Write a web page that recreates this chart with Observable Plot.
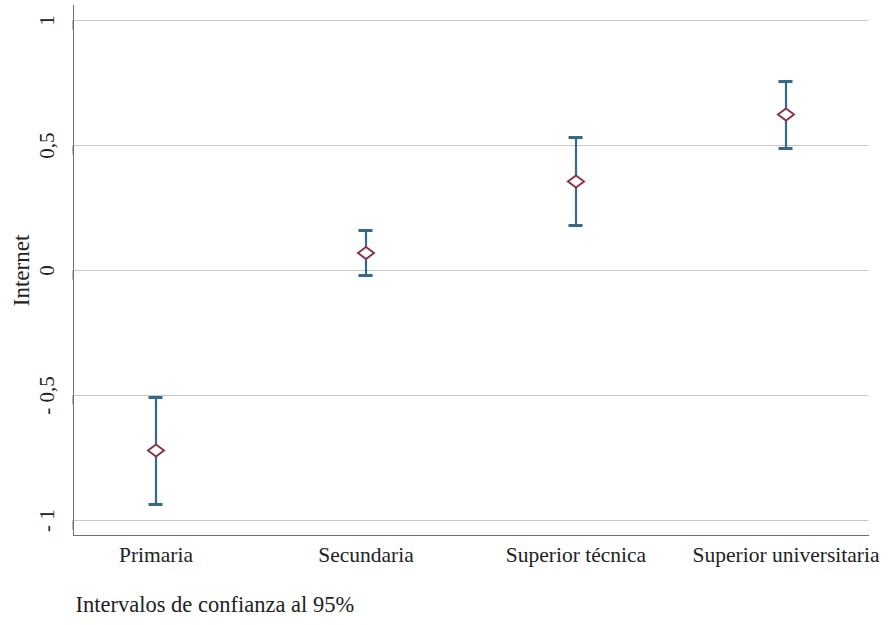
<!DOCTYPE html>
<html>
<head>
<meta charset="utf-8">
<script src="https://cdn.jsdelivr.net/npm/d3@7"></script>
<script src="https://cdn.jsdelivr.net/npm/@observablehq/plot@0.6"></script>
<style>
  html, body { margin: 0; padding: 0; background: #ffffff; }
  #chart { width: 893px; height: 625px; }
  #chart svg, #chart svg text { font-family: "Liberation Serif", "DejaVu Serif", serif !important; }
</style>
</head>
<body>
<div id="chart"></div>
<script>
// Education levels and their estimated effect with 95% confidence bounds
const categories = ["Primaria", "Secundaria", "Superior técnica", "Superior universitaria"];
const estimates = [-0.72, 0.07, 0.356, 0.624];
const lower = [-0.936, -0.02, 0.18, 0.488];
const upper = [-0.508, 0.16, 0.532, 0.756];

// Y axis ticks and their printed labels
const yTicks = [-1, -0.5, 0, 0.5, 1];
const yTickLabels = ["- 1", "- 0,5", "0", "0,5", "1"];

const yLabel = "Internet";
const caption = "Intervalos de confianza al 95%";

const rows = categories.map((c, i) => ({
  level: c, est: estimates[i], lo: lower[i], hi: upper[i]
}));

// Wide diamond marker (wider than tall)
const wideDiamond = {
  draw(context, size) {
    const r = Math.sqrt(size / Math.PI);
    const w = r, h = r * 0.75;
    context.moveTo(0, -h);
    context.lineTo(w, 0);
    context.lineTo(0, h);
    context.lineTo(-w, 0);
    context.closePath();
  }
};

const barColor = "#35698c";
const markerColor = "#8a3548";
const axisColor = "#6e6e6e";

const chart = Plot.plot({
  width: 893,
  height: 625,
  marginLeft: 73,
  marginRight: 25,
  marginTop: 5,
  marginBottom: 90,
  style: "background: #ffffff; color: #222; font-family: 'Liberation Serif', serif;",
  x: {
    type: "band",
    domain: categories,
    paddingInner: 0.9,
    paddingOuter: 0.339
  },
  y: { domain: [-1.06, 1.06] },
  marks: [
    Plot.gridY(yTicks, { stroke: "#c6c6c6", strokeOpacity: 1, strokeWidth: 1 }),
    Plot.frame({ anchor: "left", stroke: axisColor, strokeWidth: 1 }),
    Plot.frame({ anchor: "bottom", stroke: axisColor, strokeWidth: 1 }),
    Plot.axisY(yTicks, {
      tickSize: 9,
      tickPadding: 17,
      rotate: -90,
      textAnchor: "middle",
      tickFormat: (d) => yTickLabels[yTicks.indexOf(d)],
      fontSize: 21,
      stroke: axisColor,
      label: null
    }),
    Plot.axisX({
      tickSize: 0,
      tickPadding: 11,
      fontSize: 21.5,
      label: null
    }),
    Plot.ruleX(rows, { x: "level", y1: "lo", y2: "hi", stroke: barColor, strokeWidth: 2.2 }),
    Plot.tickY(rows, { x: "level", y: "lo", stroke: barColor, strokeWidth: 3, insetLeft: 3.5, insetRight: 3.5 }),
    Plot.tickY(rows, { x: "level", y: "hi", stroke: barColor, strokeWidth: 3, insetLeft: 3.5, insetRight: 3.5 }),
    Plot.dot(rows, { x: "level", y: "est", symbol: wideDiamond, r: 8, stroke: markerColor, strokeWidth: 2, fill: "#ffffff" }),
    Plot.text([yLabel], { text: (d) => d, frameAnchor: "left", textAnchor: "middle", rotate: -90, dx: -52, fontSize: 23, fill: "#222" }),
    Plot.text([caption], { text: (d) => d, frameAnchor: "bottom-left", textAnchor: "start", dx: 2, dy: 76, fontSize: 22.5, fill: "#222" })
  ]
});

document.getElementById("chart").appendChild(chart);
</script>
</body>
</html>
